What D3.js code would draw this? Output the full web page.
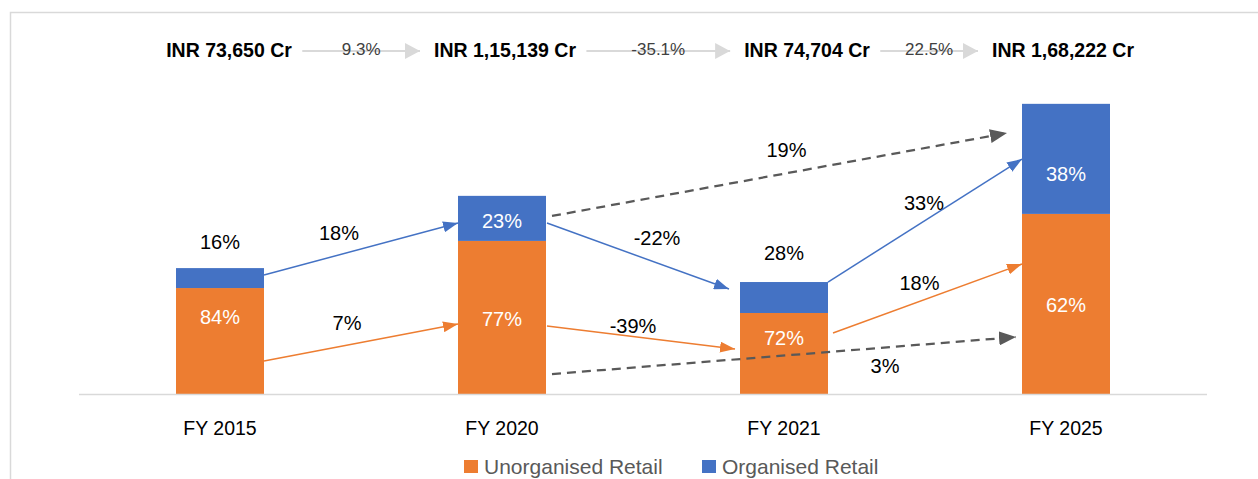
<!DOCTYPE html>
<html>
<head>
<meta charset="utf-8">
<script src="https://cdn.jsdelivr.net/npm/d3@7"></script>
<style>
  body { margin: 0; background: #fff; }
  svg { display: block; font-family: 'Liberation Sans', Arial, sans-serif; }
</style>
</head>
<body>
<svg id="chart" width="1258" height="479"></svg>
<script>
// --- data ---
const years = ['FY 2015', 'FY 2020', 'FY 2021', 'FY 2025'];
const marketSize = ['INR 73,650 Cr', 'INR 1,15,139 Cr', 'INR 74,704 Cr', 'INR 1,68,222 Cr'];
const marketGrowth = ['9.3%', '-35.1%', '22.5%'];

// bar segment values (Cr, as drawn)
const unorganisedValues = [61600, 89000, 47100, 104700];
const organisedValues = [11600, 26200, 18000, 64000];
const unorganisedShare = ['84%', '77%', '72%', '62%'];
const organisedShare = ['16%', '23%', '28%', '38%'];

const organisedGrowth = ['18%', '-22%', '33%'];
const unorganisedGrowth = ['7%', '-39%', '18%'];
const longGrowth = ['19%', '3%']; // FY 2020 -> FY 2025

const seriesNames = ['Unorganised Retail', 'Organised Retail'];
const colors = { unorganised: '#ED7D31', organised: '#4472C4' };

const width = 1258, height = 479;
const svg = d3.select('#chart');

svg.append('rect').attr('width', width).attr('height', height).attr('fill', '#fff');

// chart frame (left + top border)
svg.append('path')
    .attr('d', `M10.5,${height} V12.5 H${width}`)
    .attr('fill', 'none')
    .attr('stroke', '#d9d9d9')
    .attr('stroke-width', 1.5);

const x = d3.scaleBand()
    .domain(years)
    .range([79, 1207])
    .paddingInner(0.688)
    .paddingOuter(0.344);

const y = d3.scaleLinear()
    .domain([0, 200000])
    .range([394, 50]);

const bw = x.bandwidth();

const table = years.map((yr, i) => ({
    year: yr,
    unorganised: unorganisedValues[i],
    organised: organisedValues[i]
}));

const stack = d3.stack().keys(['unorganised', 'organised']);
const layers = stack(table);

// bars
svg.append('g').selectAll('g')
    .data(layers)
    .join('g')
    .attr('fill', d => colors[d.key])
    .selectAll('rect')
    .data(d => d)
    .join('rect')
    .attr('x', d => x(d.data.year))
    .attr('y', d => y(d[1]))
    .attr('width', bw)
    .attr('height', d => y(d[0]) - y(d[1]));

// baseline
svg.append('line')
    .attr('x1', 79).attr('x2', 1207)
    .attr('y1', y(0) + 0.5).attr('y2', y(0) + 0.5)
    .attr('stroke', '#d9d9d9')
    .attr('stroke-width', 1.5);

// share labels
const unorgNudge = [-24, 2, -15, 1];
const orgInside = [false, true, false, true];
const orgNudge = [-26, 3, -29, 15];

layers[0].forEach((d, i) => {
    svg.append('text')
        .attr('x', x(d.data.year) + bw / 2)
        .attr('y', (y(d[0]) + y(d[1])) / 2 + unorgNudge[i])
        .attr('dy', '0.35em')
        .attr('text-anchor', 'middle')
        .attr('fill', '#fff')
        .attr('font-size', '20px')
        .text(unorganisedShare[i]);
});

layers[1].forEach((d, i) => {
    const yy = orgInside[i] ? (y(d[0]) + y(d[1])) / 2 + orgNudge[i] : y(d[1]) + orgNudge[i];
    svg.append('text')
        .attr('x', x(d.data.year) + bw / 2)
        .attr('y', yy)
        .attr('dy', '0.35em')
        .attr('text-anchor', 'middle')
        .attr('fill', orgInside[i] ? '#fff' : '#000')
        .attr('font-size', '20px')
        .text(organisedShare[i]);
});

// arrow markers
const defs = svg.append('defs');
function marker(id, color, len, wid) {
    defs.append('marker')
        .attr('id', id)
        .attr('markerUnits', 'userSpaceOnUse')
        .attr('markerWidth', len).attr('markerHeight', wid)
        .attr('refX', len).attr('refY', wid / 2)
        .attr('orient', 'auto')
        .append('path')
        .attr('d', `M0,0 L${len},${wid / 2} L0,${wid} Z`)
        .attr('fill', color);
}
marker('ar-org', colors.organised, 15, 11);
marker('ar-unorg', colors.unorganised, 15, 11);
marker('ar-gray', '#595959', 17, 14);
marker('ar-head', '#d9d9d9', 15, 16);

// growth arrows: anchors in value units
const arrows = [
    { from: 0, to: 1, v0: 69200, v1: 99400, gap0: 0, gap1: 0, kind: 'org', label: organisedGrowth[0], dx: -22, dy: -16 },
    { from: 1, to: 2, v0: 99400, v1: 61000, gap0: 1, gap1: 11, kind: 'org', label: organisedGrowth[1], dx: 19, dy: -18 },
    { from: 2, to: 3, v0: 65100, v1: 136600, gap0: 0, gap1: 0, kind: 'org', label: organisedGrowth[2], dx: -1, dy: -18 },
    { from: 0, to: 1, v0: 19200, v1: 40700, gap0: 0, gap1: 0, kind: 'unorg', label: unorganisedGrowth[0], dx: -14, dy: -19 },
    { from: 1, to: 2, v0: 39500, v1: 26200, gap0: 1, gap1: 5, kind: 'unorg', label: unorganisedGrowth[1], dx: -8, dy: -11 },
    { from: 2, to: 3, v0: 35500, v1: 75600, gap0: 5, gap1: 0, kind: 'unorg', label: unorganisedGrowth[2], dx: -8, dy: -15 },
    { from: 1, to: 3, v0: 103500, v1: 151700, gap0: 6, gap1: 15, kind: 'gray', label: longGrowth[0], dx: 7, dy: -25 },
    { from: 1, to: 3, v0: 11600, v1: 33100, gap0: 6, gap1: 6, kind: 'gray', label: longGrowth[1], dx: 101, dy: 10 }
];

arrows.forEach(a => {
    const x0 = x(years[a.from]) + bw + a.gap0;
    const x1 = x(years[a.to]) - a.gap1;
    const y0 = y(a.v0), y1 = y(a.v1);
    const line = svg.append('line')
        .attr('x1', x0).attr('y1', y0)
        .attr('x2', x1).attr('y2', y1)
        .attr('marker-end', `url(#ar-${a.kind})`);
    if (a.kind === 'gray') {
        line.attr('stroke', '#595959').attr('stroke-width', 2.25).attr('stroke-dasharray', '9 6');
    } else {
        line.attr('stroke', colors[a.kind === 'org' ? 'organised' : 'unorganised']).attr('stroke-width', 1.5);
    }
    svg.append('text')
        .attr('x', (x0 + x1) / 2 + a.dx)
        .attr('y', (y0 + y1) / 2 + a.dy)
        .attr('dy', '0.35em')
        .attr('text-anchor', 'middle')
        .attr('fill', '#000')
        .attr('font-size', '20px')
        .text(a.label);
});

// x axis labels
svg.append('g').selectAll('text')
    .data(years)
    .join('text')
    .attr('x', d => x(d) + bw / 2)
    .attr('y', 435)
    .attr('text-anchor', 'middle')
    .attr('fill', '#000')
    .attr('font-size', '19.5px')
    .text(d => d);

// header: market size and growth
const headNudge = [9, 3, 23, -3];
const heads = marketSize.map((s, i) => svg.append('text')
    .attr('x', x(years[i]) + bw / 2 + headNudge[i])
    .attr('y', 57)
    .attr('text-anchor', 'middle')
    .attr('fill', '#000')
    .attr('font-weight', 'bold')
    .attr('font-size', '19.5px')
    .text(s));

const boxes = heads.map(t => t.node().getBBox());
marketGrowth.forEach((g, i) => {
    const a = boxes[i].x + boxes[i].width + 10;
    const b = boxes[i + 1].x - 14;
    svg.append('line')
        .attr('x1', a).attr('x2', b)
        .attr('y1', 51).attr('y2', 51)
        .attr('stroke', '#d9d9d9')
        .attr('stroke-width', 2)
        .attr('marker-end', 'url(#ar-head)');
    svg.append('text')
        .attr('x', (a + b) / 2)
        .attr('y', 55)
        .attr('text-anchor', 'middle')
        .attr('fill', '#404040')
        .attr('font-size', '17px')
        .text(g);
});

// legend
const legendX = [464, 702];
const legendKeys = ['unorganised', 'organised'];
seriesNames.forEach((name, i) => {
    svg.append('rect')
        .attr('x', legendX[i]).attr('y', 460)
        .attr('width', 14).attr('height', 13)
        .attr('fill', colors[legendKeys[i]]);
    svg.append('text')
        .attr('x', legendX[i] + 20)
        .attr('y', 474)
        .attr('fill', '#595959')
        .attr('font-size', '21px')
        .text(name);
});
</script>
</body>
</html>
